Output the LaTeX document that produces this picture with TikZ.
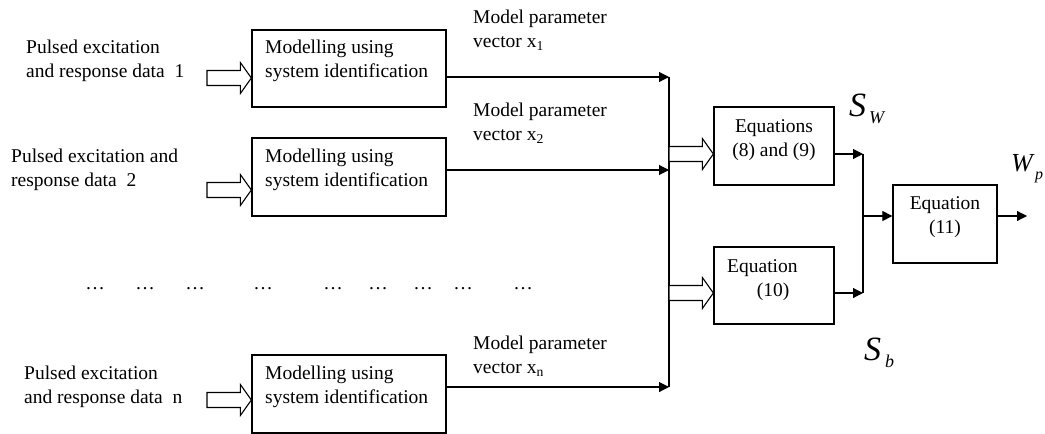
\documentclass[tikz,border=0pt]{standalone}
\usepackage{fontspec}
\setmainfont{Liberation Serif}
\usetikzlibrary{arrows.meta,calc}

\tikzset{
  box/.style={draw, rectangle, line width=1.3pt, inner sep=0pt},
  txt/.style={inner sep=0pt, font=\fontsize{19.5}{24}\selectfont, align=left},
  flow/.style={-{Triangle[length=10pt,width=10pt]}, line width=1.1pt},
  busline/.style={line width=1.1pt},
  fat/.style={draw, line width=1.1pt, fill=white, line join=miter},
  sym/.style={inner sep=0pt, anchor=base west},
}

% hollow block arrow from #1 to the x of #2, at the height of #1
\newcommand\fatarrow[2]{%
  \draw[fat] let \p1=(#1), \p2=(#2) in
    (\x1,\y1+7.5pt) -- (\x2-11pt,\y1+7.5pt) -- (\x2-11pt,\y1+15.5pt) --
    (\x2,\y1) -- (\x2-11pt,\y1-15.5pt) -- (\x2-11pt,\y1-7.5pt) --
    (\x1,\y1-7.5pt) -- cycle;}

\begin{document}
\begin{tikzpicture}[x=1pt, y=-1pt]
\useasboundingbox (0,0) rectangle (1045,434);

% identification blocks
\node[box, minimum width=194pt, minimum height=77pt] (m1) at (349,68.5) {};
\node[box, minimum width=194pt, minimum height=78pt] (m2) at (349,177) {};
\node[box, minimum width=194pt, minimum height=78pt] (mn) at (349,394) {};
\node[txt, anchor=west] (m1t) at (265,61) {Modelling using\\system identification};
\node[txt, anchor=west] (m2t) at (265,169.5) {Modelling using\\system identification};
\node[txt, anchor=west] (mnt) at (265,386.5) {Modelling using\\system identification};

% input data
\node[txt, anchor=west] (d1) at (26,61) {Pulsed excitation\\and response data~~1};
\node[txt, anchor=west] (d2) at (11,169.5) {Pulsed excitation and\\response data~~2};
\node[txt, anchor=west] (dn) at (24,386.5) {Pulsed excitation\\and response data~~n};

\coordinate (h1) at (207,78);
\coordinate (h2) at (207,190);
\coordinate (hn) at (207,400);
\fatarrow{h1}{m1.west |- h1}
\fatarrow{h2}{m2.west |- h2}
\fatarrow{hn}{mn.west |- hn}

% ellipsis row
\foreach \xx [count=\i] in {95,145,195,263,333,378,423,463,523}
  \node[txt, anchor=base] (dot\i) at (\xx,289) {…};

% parameter vectors onto the bus
\coordinate (b1) at (669,77);
\coordinate (b2) at (669,170);
\coordinate (bn) at (669,387);
\draw[flow] (m1.east |- b1) -- (b1);
\draw[flow] (m2.east |- b2) -- (b2);
\draw[flow] (mn.east |- bn) -- (bn);
\draw[busline] (b1) -- (bn);

\node[txt, anchor=west] (l1) at (473,30.5) {Model parameter\\vector x\textsubscript{1}};
\node[txt, anchor=west] (l2) at (473,123.5) {Model parameter\\vector x\textsubscript{2}};
\node[txt, anchor=west] (ln) at (473,356.5) {Model parameter\\vector x\textsubscript{n}};

% equation blocks
\node[box, minimum width=120pt, minimum height=78pt] (e89) at (774,146) {};
\node[box, minimum width=120pt, minimum height=77pt] (e10) at (774,285.5) {};
\node[box, minimum width=104pt, minimum height=78pt] (e11) at (945,224) {};
\node[txt, align=center] (e89t) at (774,140) {Equations\\(8) and (9)};
\node[txt, anchor=base west] (e10a) at (727,272) {Equation};
\node[txt, anchor=base] (e10b) at (773,296.5) {(10)};
\node[txt, align=center] (e11t) at (945,217) {Equation\\(11)};

\coordinate (c1) at (669,154);
\coordinate (c2) at (669,293);
\fatarrow{c1}{e89.west |- c1}
\fatarrow{c2}{e10.west |- c2}

\coordinate (j1) at (863,154);
\coordinate (j2) at (863,293);
\coordinate (j3) at (863,216);
\coordinate (out) at (1027,216);
\draw[flow] (e89.east |- j1) -- (j1);
\draw[flow] (e10.east |- j2) -- (j2);
\draw[busline] (j1) -- (j2);
\draw[flow] (j3) -- (e11.west |- j3);
\draw[flow] (e11.east |- j3) -- (out);

% symbols
\node[sym, font=\fontsize{34}{34}\selectfont\itshape] (sw) at (849,116) {S};
\node[sym, font=\fontsize{18}{18}\selectfont\itshape] (swi) at (869,123) {W};
\node[sym, font=\fontsize{34}{34}\selectfont\itshape] (sb) at (864,360) {S};
\node[sym, font=\fontsize{18}{18}\selectfont\itshape] (sbi) at (885,367) {b};
\node[sym, font=\fontsize{26}{26}\selectfont\itshape] (wp) at (1011,171) {W};
\node[sym, font=\fontsize{16}{16}\selectfont\itshape] (wpi) at (1035,179) {p};
\end{tikzpicture}
\end{document}
